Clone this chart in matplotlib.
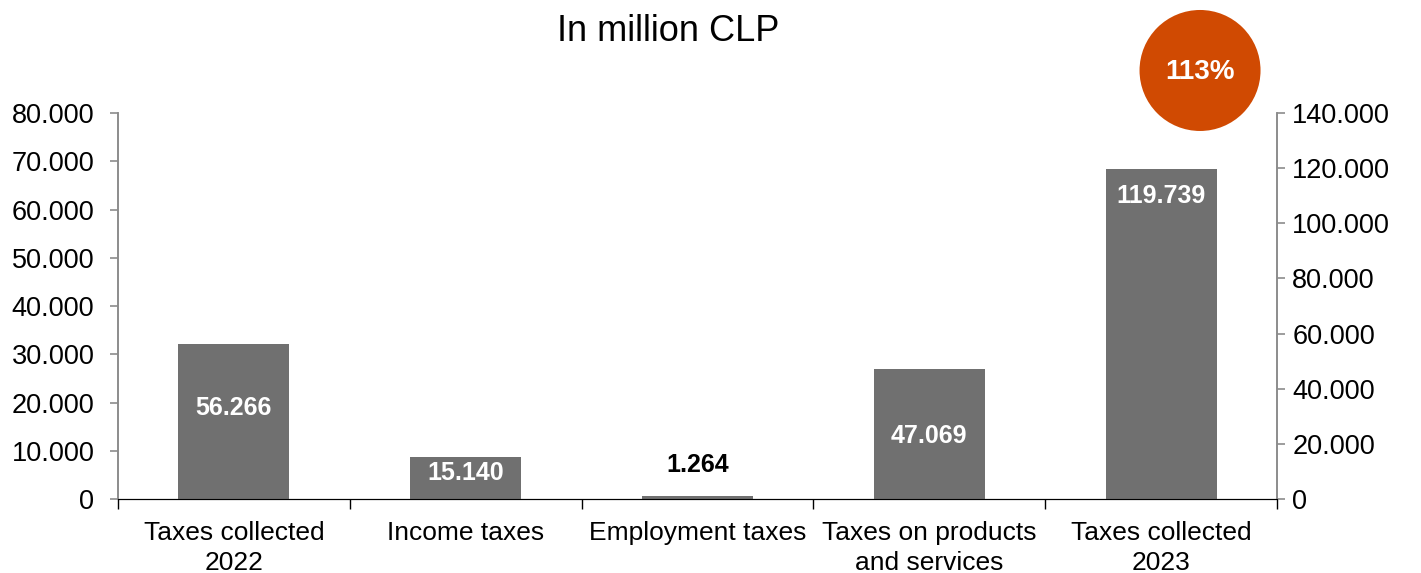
import matplotlib.pyplot as plt
from matplotlib.patches import Ellipse

plt.rcParams['font.family'] = ['Liberation Sans', 'DejaVu Sans']

categories = ["Taxes collected\n2022", "Income taxes", "Employment taxes",
              "Taxes on products\nand services", "Taxes collected\n2023"]
values = [56266, 15140, 1264, 47069, 119739]
# where each value label sits, as a share of the bar height (None = above the bar)
label_pos = [0.587, 0.62, None, 0.485, 0.918]
growth = "113%"

left_ticks = list(range(0, 80001, 10000))
right_ticks = list(range(0, 140001, 20000))

bar_color = "#707070"
accent = "#D04A02"
spine_gray = "#8C8C8C"


def fmt(v):
    return f"{v:,}".replace(",", ".")


fig = plt.figure(figsize=(14.21, 5.73), dpi=100)
ax = fig.add_axes([0.0830, 0.1291, 0.8157, 0.6737])
ax2 = ax.twinx()

x = list(range(len(categories)))
ax2.bar(x, values, width=0.48, color=bar_color, zorder=2)

for i, v in enumerate(values):
    if label_pos[i] is None:
        ax2.annotate(fmt(v), (i, v), xytext=(0, 13), textcoords="offset points",
                     ha="center", va="bottom", fontsize=18, fontweight="bold", color="black")
    else:
        ax2.text(i, v * label_pos[i], fmt(v), ha="center", va="center",
                 fontsize=18, fontweight="bold", color="white")

ax.set_ylim(0, 80000)
ax2.set_ylim(0, 140000)
ax.set_xlim(-0.5, len(categories) - 0.5)

ax.set_yticks(left_ticks)
ax.set_yticklabels([fmt(t) for t in left_ticks])
ax2.set_yticks(right_ticks)
ax2.set_yticklabels([fmt(t) for t in right_ticks])

# category boundaries carry the tick marks, labels sit at the centres
ax.set_xticks([i - 0.5 for i in range(len(categories) + 1)])
ax.set_xticklabels([])
ax.set_xticks(x, minor=True)
ax.set_xticklabels(categories, minor=True, fontsize=19, linespacing=1.28)
ax.tick_params(axis="x", which="major", direction="out", length=7, width=1, color="black")
ax.tick_params(axis="x", which="minor", length=0, pad=16)

for a, pad in ((ax, 11), (ax2, 5)):
    a.tick_params(axis="y", direction="out", length=6, width=1.2, color=spine_gray,
                  labelsize=19.5, pad=pad)
    a.spines["top"].set_visible(False)
    a.spines["left"].set_color(spine_gray)
    a.spines["right"].set_color(spine_gray)
    a.spines["left"].set_linewidth(1.2)
    a.spines["right"].set_linewidth(1.2)
    a.spines["bottom"].set_color("black")

fig.text(0.470, 0.945, "In million CLP", ha="center", va="center", fontsize=26)

circle = Ellipse((0.8445, 0.877), 121 / 1421, 121 / 573, transform=fig.transFigure,
                 facecolor=accent, edgecolor="none")
fig.patches.append(circle)
fig.text(0.8445, 0.874, growth, ha="center", va="center", fontsize=20,
         fontweight="bold", color="white")

fig.savefig("out.png", dpi=100)
